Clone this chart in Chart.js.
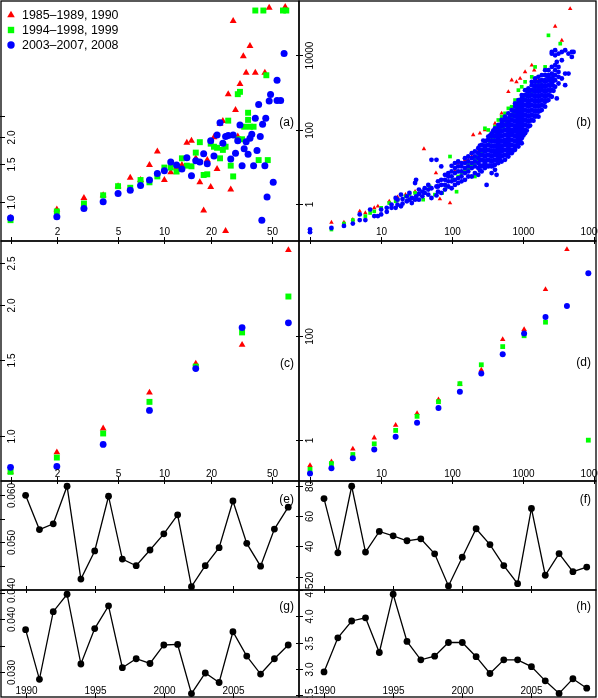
<!DOCTYPE html>
<html>
<head>
<meta charset="utf-8">
<script src="https://cdn.jsdelivr.net/npm/chart.js@4.4.1/dist/chart.umd.min.js"></script>
<style>
  body { margin: 0; background: #fff; }
  #wrap { position: relative; width: 598px; height: 698px; overflow: hidden; }
</style>
</head>
<body>
<div id="wrap"></div>
<script>
// ---- data ----
const legendLabels = ['1985\u20131989, 1990', '1994\u20131998, 1999', '2003\u20132007, 2008'];

// (a) single years
const aRed = [[1,0.84],[2,0.92],[3,1.04],[4,1.07],[5,1.18],[6,1.29],[7,1.26],[8,1.48],[9,1.71],[10,1.26],[11,1.37],[12,1.44],[13,1.48],[14,1.88],[15,1.92],[16,1.59],[17,1.23],[18,0.91],[19,1.56],[20,1.17],[21,1.99],[22,1.42],[23,2.30],[24,2.37],[25,0.73],[26,3.16],[27,1.14],[28,6.91],[29,2.67],[30,2.01],[31,3.52],[32.6,4.74],[34,3.97],[36,5.30],[39,3.97],[45,3.97],[48,7.97],[61,8.03]];
const aGreen = [[1,0.82],[2,0.90],[3,0.98],[4,1.07],[5,1.18],[6,1.16],[7,1.26],[8,1.23],[9,1.31],[10,1.44],[11,1.44],[12,1.38],[13,1.59],[14,1.47],[15,1.46],[16,1.69],[17,1.89],[18,1.33],[19,1.34],[20,1.86],[21,1.80],[22,1.78],[23,1.59],[24,1.74],[25,1.80],[26,2.38],[27,1.47],[28,1.31],[30,3.16],[31,3.24],[30,1.95],[32,1.95],[33,2.23],[35,2.59],[35,2.40],[36,2.23],[38,2.23],[39,7.74],[41,1.56],[44,7.74],[46,3.87],[47,1.56],[59,7.74],[62,7.74]];
const aBlue = [[1,0.84],[2,0.85],[3,0.93],[4,1.00],[5,1.09],[6,1.13],[7,1.19],[8,1.26],[9,1.35],[10,1.39],[11,1.53],[12,1.48],[13,1.42],[14,1.60],[15,1.32],[16,1.55],[17,1.53],[18,1.67],[19,1.50],[20,1.92],[21,1.63],[22,2.04],[23,2.33],[24,1.87],[25,2.01],[26,2.03],[27,1.58],[28,2.04],[29,1.68],[30,1.92],[31,2.27],[32,1.47],[33,1.76],[34,1.90],[35,1.66],[36,1.97],[37,2.06],[38,1.47],[39,2.44],[40,1.73],[41,2.83],[42,2.01],[43,0.82],[43.5,2.29],[45,1.47],[45.6,2.44],[46.5,1.05],[48,2.94],[49,3.15],[51,1.23],[54,3.67],[54,2.95],[57,2.95],[60,4.88]];

// (b) cloud
const bRed = [[2,0.31],[3,0.31],[4,0.37],[5,0.62],[6,0.56],[8,0.77],[9,0.85],[13,1.16],[17,1.5],[22,1.75],[30,2.1],[40,30],[59,6.7],[67,1.33],[93,1.04],[109,7.4],[121,12.4],[135,10.1],[151,15.2],[168,15.2],[188,18.7],[197,71.4],[232,25.5],[245,79.2],[288,97.3],[288,34.7],[338,64.4],[358,52.4],[399,147],[444,87.8],[495,274],[552,133],[615,1045],[685,2150],[685,201],[800,1940],[851,337],[900,2384],[1057,3602],[1312,5441],[1420,3993],[1629,2150],[2797,61000],[3472,25600],[4550,182000]];
const bGreen = [[1,0.17],[2,0.20],[3,0.29],[4,0.36],[6,0.46],[7,0.56],[8,0.62],[10,0.77],[13,1.04],[16,1.16],[17,1.28],[22,1.57],[25,1.75],[30,1.94],[39,1.28],[48,2.9],[57,1.75],[72,1.94],[83,2.9],[93,18.7],[103,4.4],[115,2.1],[121,5.4],[135,6.7],[151,9.1],[151,7.4],[168,11.2],[168,8.2],[188,12.4],[188,10.1],[208,5.4],[208,15.2],[208,12.4],[232,18.7],[232,15.2],[259,25.5],[259,20.7],[288,108],[288,31.3],[321,97.3],[321,38.5],[338,47.3],[358,52.4],[378,58.1],[399,120],[399,64.4],[420,79.2],[444,181],[444,79.2],[470,87.8],[495,223],[495,97.3],[523,120],[552,274],[552,133],[583,163],[615,373],[615,163],[650,201],[685,413],[685,223],[723,274],[764,624],[764,274],[806,373],[851,1158],[851,373],[900,508],[948,1424],[948,508],[1000,692],[1057,1940],[1057,624],[1177,850],[1312,2643],[1312,1045],[1387,1158],[1462,4908],[1462,1284],[1545,1578],[1629,1578],[1720,1940],[1915,2930],[2022,4908],[2253,34900],[3300,20800]];
const bBlueX = [1,2,3,4,5,6,7,8,9,10,12,14,16,17,19,20,23,25,27,30,31,34,38,41,46,51,60,63,70,79,88,98,109,121,135,151,168,188,208,232,259,288,304,321,358,399,420,444,495,552,615,685,764,851,900,948,1057,1177,1312,1462,1629,1815,2022,2253,2511,2797,2950,3117,3472,3868,4310,4802,5080];
const bBlueY = [
  [0.20,0.17],[0.22],[0.25],[0.29],[0.51,0.36],[0.36],[0.69],[0.46],[0.46],[0.69,0.51],
  [0.60,0.77],[0.77,0.94],[0.77,1.42],[0.94,1.28],[1.75,0.85],[1.0,1.33],[1.16,1.57],[1.28,1.94],[1.42,1.04],[3.6,1.28],
  [4.4,1.57],[1.82,1.28,2.4],[1.57,2.1],[1.94,2.6],[2.4,1.75,3.2],[15.2,1.42,2.6],[15.2,1.67,2.9],[2.9,2.1,4.0],[10.1,1.94,3.2,4.4],[3.2,2.4,4.4,6.0],
  [4.0,2.9,5.4,6.7],[10.5,2.6,4.0,5.4,7.4],[4.4,3.2,6.7,9.1,12.4],[4.9,3.6,7.4,10.1,13.7],[7.4,4.0,5.4,10.1,12.4],[6.7,4.4,9.1,12.4,16.9],[10.1,5.4,7.4,13.7,18.7],[9.1,5.4,12.4,16.9,23],[10.1,6.7,13.7,18.7,25.5],[12.4,6.0,9.1,16.9,23,31.3],
  [15.2,7.4,10.1,20.7,28.3,38.5],[18.7,9.1,12.4,25.5,34.7,47.3],[3.2],[20.7,10.1,15.2,28.3,38.5,52.4,64.4],[10.1,6.7,13.7,18.7,25.5,34.7,47.3,64.4,79.2],[25.5,8.2,11.2,15.2,20.7,34.7,47.3,64.4,87.8,108],[6.0],[34.7,12.4,16.9,23,31.3,42.7,58.1,79.2,108,133],[28.3,13.7,18.7,25.5,34.7,47.3,64.4,87.8,120,147,181],[42.7,15.2,20.7,28.3,38.5,52.4,71.4,97.3,133,181,223],
  [52.4,18.7,23,31.3,42.7,58.1,79.2,108,147,201,274],[79.2,23,28.3,38.5,52.4,71.4,97.3,133,181,247,336],[97.3,28.3,34.7,47.3,64.4,87.8,120,163,223,303,413,508],[133,34.7,42.7,58.1,79.2,108,147,201,274,373,508,624],[274],[181,42.7,58.1,79.2,108,147,201,274,373,508,692,850],[336,79.2,97.3,133,181,247,458,624,850,1158],[508,120,163,223,303,413,563,767,1045,1284],[624,181,247,336,458,850,1158,1578,1940],[767,223,303,413,563,1045,1424,1940,2384],
  [1158,223,303,413,563,767,1045,1424,1940,2643],[1424,336,458,624,850,1158,1578,2150,2930],[2150,413,563,767,1045,1424,1940,2930,3993],[2643,624,850,1158,1578,2150,2930,3993],[3249,12400,767,1158,1750,2384,4908,11200],[5441,1424,2150,2930,3993,10100,13800],[6689,692],[11200,1750,2643,3602,4908],[7431,2384,12400],[13800,1578,3249],
  [11200,3249],[12400,9130],[12400]
];
// (b) extra blue points filling the dense part of the band
const bBlueMidX = [245,273,304,338,378,420,470,523,583,650,723,806,900,1000,1115,1243,1387,1545,1720,1915,2134,2380,2650];
const bBlueMidY = [
  [7.9,10.7,14.6,19.9,27.2,37.0],[10.7,14.6,19.9,27.2,37.0,50.4],[10.7,14.6,19.9,27.2,37.0,50.4],[10.7,14.6,19.9,27.2,37.0,50.4,68.7],[10.7,14.6,19.9,27.2,37.0,50.4,68.7,93.6],
  [14.6,19.9,27.2,37.0,50.4,68.7,93.6],[14.6,19.9,27.2,37.0,50.4,68.7,93.6,128],[19.9,27.2,37.0,50.4,68.7,93.6,128,174],[19.9,27.2,37.0,50.4,68.7,93.6,128,174],[27.2,37.0,50.4,68.7,93.6,128,174,237],
  [27.2,37.0,50.4,68.7,93.6,128,174,237,323],[37.0,50.4,68.7,93.6,128,174,237,323,440],[50.4,68.7,93.6,128,174,237,323,440,600],[68.7,93.6,128,174,237,323,440,600,817],[93.6,128,174,237,323,440,600,817,1113],
  [128,174,237,323,440,600,817,1113],[174,237,323,440,600,817,1113,1517],[237,323,440,600,817,1113,1517],[323,440,600,817,1113,1517,2067],[440,600,817,1113,1517,2067],
  [600,817,1113,1517,2067,2818],[817,1113,1517,2067],[1113,1517,2067,2818]
];

// (c) and (d) binned
const cX = [1,2,4,8,16,32,64];
const cRed = [0.83,0.92,1.043,1.26,1.468,1.62,2.67];
const cGreen = [0.83,0.895,1.016,1.20,1.445,1.73,2.09];
const cBlue = [0.85,0.854,0.959,1.147,1.43,1.775,1.82];
const dX = [1,2,4,8,16,32,64,128,256,512,1024,2048,4096,8192];
const dRed = [0.326,0.385,0.68,1.11,1.95,3.26,6.0,12.0,22.4,87,135,794,4680,null];
const dGreen = [0.275,0.355,0.53,0.85,1.54,2.88,5.5,12.2,28.2,63,102,186,null,1.0];
const dBlue = [0.229,0.288,0.447,0.66,1.16,2.16,4.17,8.5,19.1,44.7,112,234,380,1620];

// (e)-(h) yearly series
const years = [1990,1991,1992,1993,1994,1995,1996,1997,1998,1999,2000,2001,2002,2003,2004,2005,2006,2007,2008,2009];
const eVals = [0.0599,0.0527,0.0539,0.0618,0.0423,0.0482,0.0597,0.0465,0.0451,0.0484,0.0518,0.0558,0.0407,0.0451,0.0489,0.0587,0.0498,0.0450,0.0528,0.0574];
const fVals = [71.8,35.8,80,36.3,50,47.1,43.8,45.1,35.1,13.8,32.9,51.8,41.3,27.3,15.3,65.3,20.9,35.3,23.3,26.3];
const gVals = [0.0380,0.0286,0.0414,0.0447,0.0315,0.0382,0.0425,0.0308,0.0325,0.0316,0.0351,0.0352,0.0259,0.0298,0.0280,0.0376,0.0330,0.0296,0.0325,0.0351];
const hVals = [2.94,3.59,3.91,3.97,3.31,4.42,3.52,3.17,3.24,3.50,3.50,3.23,2.91,3.17,3.17,3.04,2.77,2.53,2.81,2.63];

// ticks and tick labels
const smallXTicks = [1,2,5,10,20,50];
const smallXLabels = ['','2','5','10','20','50'];
const bigXTicks = [1,10,100,1000,10000];
const bigXLabels = ['','10','100','1000','10000'];
const aYTicks = [1.0,1.5,2.0,2.5];
const aYLabels = ['1.0','1.5','2.0',''];
const bYTicks = [1,100,10000];
const bYLabels = ['1','100','10000'];
const cYTicks = [1.0,1.5,2.0,2.5];
const cYLabels = ['1.0','1.5','2.0','2.5'];
const dYTicks = [1,100];
const dYLabels = ['1','100'];
const eYTicks = [0.040,0.045,0.050,0.055,0.060];
const eYLabels = ['0.040','','0.050','','0.060'];
const fYTicks = [20,40,60,80];
const fYLabels = ['20','40','60','80'];
const gYTicks = [0.030,0.035,0.040,0.045];
const gYLabels = ['0.030','','0.040',''];
const hYTicks = [2.5,3.0,3.5,4.0,4.5];
const hYLabels = ['2.5','3.0','3.5','4.0','4.5'];
const yearTicks = [1990,1995,2000,2005];
const yearLabels = ['1990','1995','2000','2005'];

// ---- drawing ----
const FONT = '"Liberation Sans", Arial, Helvetica, sans-serif';
const RED = '#ff0000', GREEN = '#00ff00', BLUE = '#0000ff';
const wrap = document.getElementById('wrap');
const PAD = 14;

// R-like frame: box, tick marks straddling the border, labels inside
const rFrame = {
  id: 'rFrame',
  afterDraw(chart, args, o) {
    const ctx = chart.ctx, a = chart.chartArea;
    const x = chart.scales.x, y = chart.scales.y;
    ctx.save();
    ctx.strokeStyle = '#000';
    ctx.fillStyle = '#000';
    ctx.lineWidth = 1.3;
    ctx.strokeRect(a.left, a.top, a.right - a.left, a.bottom - a.top);
    ctx.lineWidth = 1;
    ctx.font = '10px ' + FONT;
    ctx.textAlign = 'center';
    ctx.textBaseline = 'alphabetic';
    o.xTicks.forEach((v, i) => {
      const px = Math.round(x.getPixelForValue(v)) + 0.5;
      ctx.beginPath(); ctx.moveTo(px, a.bottom - 4); ctx.lineTo(px, a.bottom + 3); ctx.stroke();
      const s = o.xLabels && o.xLabels[i];
      if (s) ctx.fillText(s, px, a.bottom - o.xLift);
    });
    o.yTicks.forEach((v, i) => {
      const py = Math.round(y.getPixelForValue(v)) + 0.5;
      ctx.beginPath(); ctx.moveTo(a.left - 3, py); ctx.lineTo(a.left + 4, py); ctx.stroke();
      const s = o.yLabels[i];
      if (s) {
        ctx.save();
        ctx.translate(a.left + 14, py);
        ctx.rotate(-Math.PI / 2);
        ctx.fillText(s, 0, 0);
        ctx.restore();
      }
    });
    ctx.font = '12px ' + FONT;
    ctx.textAlign = 'right';
    ctx.textBaseline = 'middle';
    ctx.fillText(o.tag, a.right - 5, a.top + o.tagTop);
    if (o.legend) {
      ctx.font = '12.4px ' + FONT;
      ctx.textAlign = 'left';
      const marks = [['tri', RED], ['sq', GREEN], ['dot', BLUE]];
      marks.forEach((m, i) => {
        const cx = a.left + 10, cy = a.top + 14 + 15 * i;
        ctx.fillStyle = m[1];
        ctx.beginPath();
        if (m[0] === 'tri') { ctx.moveTo(cx, cy - 4.2); ctx.lineTo(cx + 3.8, cy + 2.3); ctx.lineTo(cx - 3.8, cy + 2.3); ctx.closePath(); }
        else if (m[0] === 'sq') { ctx.rect(cx - 3.2, cy - 3.2, 6.4, 6.4); }
        else { ctx.arc(cx, cy, 3.7, 0, Math.PI * 2); }
        ctx.fill();
        ctx.fillStyle = '#000';
        ctx.fillText(legendLabels[i], a.left + 21, cy + 0.5);
      });
    }
    ctx.restore();
  }
};

function pts(pairs) { return pairs.map(p => ({x: p[0], y: p[1]})); }
function zip(xs, ys) { return xs.map((v, i) => ({x: v, y: ys[i]})).filter(p => p.y != null); }
function cols(xs, yLists, out) { xs.forEach((xv, i) => yLists[i].forEach(yv => out.push({x: xv, y: yv}))); return out; }

function series(data, style, color, r, order) {
  return {data, pointStyle: style, pointRadius: r, pointBackgroundColor: color,
          pointBorderColor: color, pointBorderWidth: 0, showLine: false, order};
}
function three(red, green, blue, sz) {
  return [series(red, 'triangle', RED, sz[0], 3), series(green, 'rect', GREEN, sz[1], 2), series(blue, 'circle', BLUE, sz[2], 1)];
}
function line(xs, ys) {
  return [{data: zip(xs, ys), showLine: true, borderColor: '#000', borderWidth: 1.3,
           pointRadius: 3.4, pointBackgroundColor: '#000', pointBorderWidth: 0}];
}

function panel(box, datasets, xs, ys, frame) {
  const w = box[1] - box[0] + 2 * PAD, h = box[3] - box[2] + 2 * PAD;
  const c = document.createElement('canvas');
  c.width = w; c.height = h;
  c.style.cssText = 'position:absolute;left:' + (box[0] - PAD) + 'px;top:' + (box[2] - PAD) + 'px;width:' + w + 'px;height:' + h + 'px';
  wrap.appendChild(c);
  new Chart(c, {
    type: 'scatter',
    data: {datasets},
    options: {
      responsive: false, animation: false, events: [],
      layout: {padding: PAD},
      plugins: {legend: {display: false}, tooltip: {enabled: false}, rFrame: frame},
      scales: {x: Object.assign({display: false}, xs), y: Object.assign({display: false}, ys)}
    },
    plugins: [rFrame]
  });
}

const colL = [1, 299], colR = [299, 596];
const rows = [[1, 241], [241, 481], [481, 590], [590, 697]];
const box = (c, r) => [c[0], c[1], r[0], r[1]];

const logX1 = {type: 'logarithmic', min: 0.867, max: 75};
const logX2 = {type: 'logarithmic', min: 0.70, max: 10500};
const yrL = {type: 'linear', min: 1988.22, max: 2009.78};
const yrR = {type: 'linear', min: 1988.19, max: 2009.67};

panel(box(colL, rows[0]), three(pts(aRed), pts(aGreen), pts(aBlue), [4, 4.2, 3.5]),
  logX1, {type: 'logarithmic', min: 0.656, max: 8.57},
  {xTicks: smallXTicks, xLabels: smallXLabels, xLift: 6, yTicks: aYTicks, yLabels: aYLabels, tag: '(a)', tagTop: 122, legend: true});

const bBlue = cols(bBlueX, bBlueY, []);
cols(bBlueMidX, bBlueMidY, bBlue);
panel(box(colR, rows[0]), three(pts(bRed), pts(bGreen), bBlue, [2.6, 2.6, 2.4]),
  logX2, {type: 'logarithmic', min: 0.098, max: 295000},
  {xTicks: bigXTicks, xLabels: bigXLabels, xLift: 6, yTicks: bYTicks, yLabels: bYLabels, tag: '(b)', tagTop: 122});

panel(box(colL, rows[1]), three(zip(cX, cRed), zip(cX, cGreen), zip(cX, cBlue), [3.9, 4.2, 3.4]),
  logX1, {type: 'logarithmic', min: 0.791, max: 2.80},
  {xTicks: smallXTicks, xLabels: smallXLabels, xLift: 4, yTicks: cYTicks, yLabels: cYLabels, tag: '(c)', tagTop: 123});

panel(box(colR, rows[1]), three(zip(dX, dRed), zip(dX, dGreen), zip(dX, dBlue), [3.2, 3.4, 3.0]),
  logX2, {type: 'logarithmic', min: 0.164, max: 6770},
  {xTicks: bigXTicks, xLabels: bigXLabels, xLift: 4, yTicks: dYTicks, yLabels: dYLabels, tag: '(d)', tagTop: 122});

panel(box(colL, rows[2]), line(years, eVals), yrL, {type: 'linear', min: 0.0400, max: 0.0629},
  {xTicks: yearTicks, xLabels: null, xLift: 4, yTicks: eYTicks, yLabels: eYLabels, tag: '(e)', tagTop: 19});

panel(box(colR, rows[2]), line(years, fVals), yrR, {type: 'linear', min: 11.1, max: 83.5},
  {xTicks: yearTicks, xLabels: null, xLift: 4, yTicks: fYTicks, yLabels: fYLabels, tag: '(f)', tagTop: 19});

panel(box(colL, rows[3]), line(years, gVals), yrL, {type: 'linear', min: 0.02526, max: 0.0455},
  {xTicks: yearTicks, xLabels: yearLabels, xLift: 3, yTicks: gYTicks, yLabels: gYLabels, tag: '(g)', tagTop: 17});

panel(box(colR, rows[3]), line(years, hVals), yrR, {type: 'linear', min: 2.462, max: 4.5},
  {xTicks: yearTicks, xLabels: yearLabels, xLift: 3, yTicks: hYTicks, yLabels: hYLabels, tag: '(h)', tagTop: 17});
</script>
</body>
</html>
